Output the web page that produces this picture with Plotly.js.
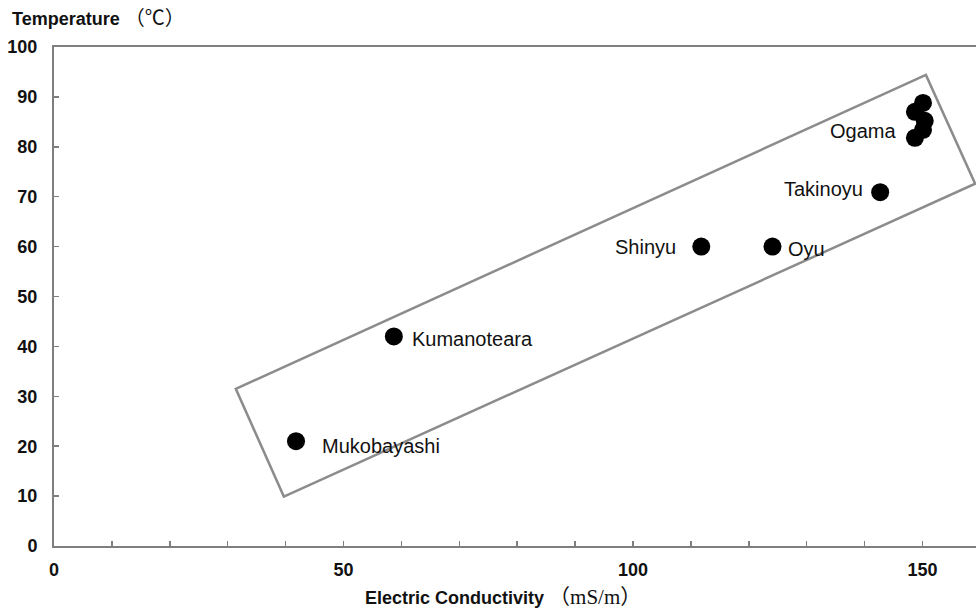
<!DOCTYPE html>
<html>
<head>
<meta charset="utf-8">
<script src="https://cdn.plot.ly/plotly-3.0.1.min.js"></script>
<style>html,body{margin:0;padding:0;background:#fff;}</style>
</head>
<body>
<div id="chart" style="width:976px;height:612px;"></div>
<script>
// Data
const sites = ['Mukobayashi','Kumanoteara','Shinyu','Oyu','Takinoyu','Ogama','Ogama','Ogama','Ogama','Ogama'];
const conductivity = [41.8, 58.7, 111.8, 124.1, 142.7, 150.1, 148.7, 150.4, 150.1, 148.7];
const temperature = [21.0, 42.0, 60.0, 60.0, 70.9, 88.8, 87.0, 85.2, 83.4, 81.8];

// Which points carry a text label, and on which side
const labelIndex = [0, 1, 2, 3, 4, 8];
const labelSide = ['right', 'right', 'left', 'right', 'left', 'left'];
const labelShiftX = [24, 16, -23, 14, -15, -25];
const labelShiftY = [-5, -3, 0, -2, 3, -1];

// Grouping box corners (data units)
const boxX = [31.4, 150.6, 159.1, 39.7];
const boxY = [31.5, 94.4, 72.6, 9.9];

const xTicks = [0, 50, 100, 150];
const yTicks = [0, 10, 20, 30, 40, 50, 60, 70, 80, 90, 100];

const boxPath = 'M ' + boxX.map((x, i) => x + ',' + boxY[i]).join(' L ') + ' Z';

const labelAnnotations = labelIndex.map((idx, k) => ({
  x: conductivity[idx], y: temperature[idx], xref: 'x', yref: 'y',
  text: sites[idx], showarrow: false,
  xanchor: labelSide[k] === 'right' ? 'left' : 'right', yanchor: 'middle',
  xshift: labelShiftX[k], yshift: labelShiftY[k],
  font: {family: 'Liberation Sans, Arial, sans-serif', size: 20, color: '#111'}
}));

const trace = {
  x: conductivity, y: temperature, text: sites,
  type: 'scatter', mode: 'markers',
  marker: {color: '#000', size: 18},
  hoverinfo: 'text+x+y', cliponaxis: false
};

const axisCommon = {
  showgrid: false, zeroline: false, showline: true, linecolor: '#7f7f7f', linewidth: 2,
  ticks: 'inside', ticklen: 5, tickwidth: 1.5, tickcolor: '#7f7f7f', mirror: true,
  tickfont: {family: 'Liberation Sans, Arial, sans-serif', size: 18, color: '#111', weight: 'bold'}
};

const layout = {
  width: 976, height: 612,
  margin: {l: 54, r: 0, t: 47, b: 66, pad: 0},
  paper_bgcolor: '#fff', plot_bgcolor: '#fff',
  showlegend: false,
  xaxis: Object.assign({}, axisCommon, {
    range: [0, 159.25], tickmode: 'array', tickvals: xTicks, ticktext: xTicks.map(String),
    ticklabelstandoff: 6,
    minor: {tick0: 0, dtick: 10, ticks: 'inside', ticklen: 5, tickwidth: 1.5, tickcolor: '#7f7f7f'}
  }),
  yaxis: Object.assign({}, axisCommon, {
    range: [0, 100], tickmode: 'array', tickvals: yTicks, ticktext: yTicks.map(String),
    ticklabelstandoff: 11
  }),
  shapes: [{
    type: 'path', path: boxPath, xref: 'x', yref: 'y', layer: 'below',
    line: {color: '#8c8c8c', width: 2.5}
  }],
  annotations: labelAnnotations.concat([
    {
      xref: 'paper', yref: 'paper', x: -0.0477, y: 1.059, xanchor: 'left', yanchor: 'middle',
      showarrow: false,
      text: 'Temperature <span style="font-weight:normal;font-size:20px">（℃）</span>',
      font: {family: 'Liberation Sans, Noto Sans CJK JP, sans-serif', size: 18, color: '#111', weight: 'bold'}
    },
    {
      xref: 'paper', yref: 'paper', x: 0.487, y: -0.103, xanchor: 'center', yanchor: 'middle',
      showarrow: false,
      text: 'Electric Conductivity <span style="font-weight:normal;font-size:21px;font-family:Liberation Serif, Noto Sans CJK JP, serif">（mS/m）</span>',
      font: {family: 'Liberation Sans, Noto Sans CJK JP, sans-serif', size: 18, color: '#111', weight: 'bold'}
    }
  ])
};

Plotly.newPlot('chart', [trace], layout, {displayModeBar: false, staticPlot: true});
</script>
</body>
</html>
